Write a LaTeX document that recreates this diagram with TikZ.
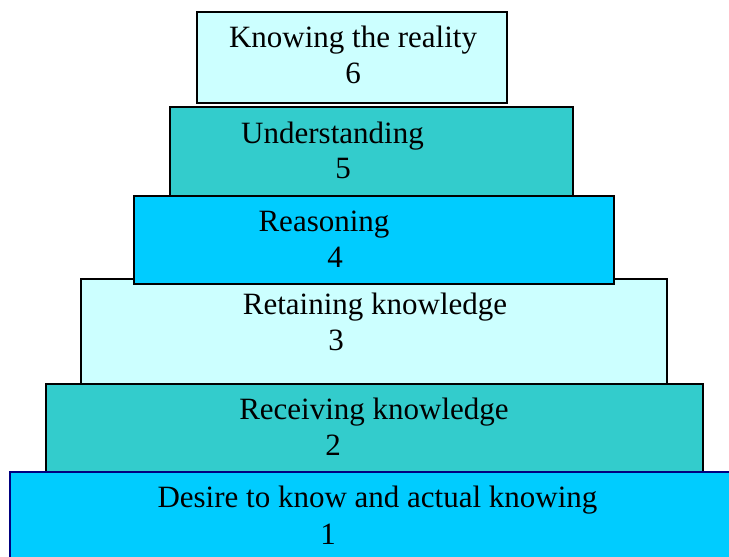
\documentclass[tikz,border=0pt]{standalone}
\usepackage{fontspec}
\setmainfont{Liberation Serif}
\definecolor{lightcy}{HTML}{CCFFFF}
\definecolor{tealc}{HTML}{33CCCC}
\definecolor{skyc}{HTML}{00CCFF}
\definecolor{navyc}{HTML}{000080}
\begin{document}
\begin{tikzpicture}[x=1pt,y=1pt,
  tier/.style={draw=black,line width=1.3pt},
  lbl/.style={anchor=base,inner sep=0pt,font=\fontsize{31}{37}\selectfont}]
\useasboundingbox (0,0) rectangle (729,557);
% tiers
\draw[tier,fill=lightcy] (197,545) rectangle (507,454);
\draw[tier,fill=tealc] (170,450) rectangle (573,361);
\draw[tier,fill=lightcy] (81,278) rectangle (667,172);
\draw[tier,fill=skyc] (134,361) rectangle (614,273);
\draw[tier,fill=tealc] (46,173) rectangle (703,85);
\draw[draw=navyc,line width=1.3pt,fill=skyc] (10,85) rectangle (745,-15);
% labels
\node[lbl] (t6) at (353,509) {Knowing the reality};
\node[lbl] (n6) at (353,473) {6};
\node[lbl] (t5) at (332.5,413) {Understanding};
\node[lbl] (n5) at (343,378) {5};
\node[lbl] (t4) at (324,325) {Reasoning};
\node[lbl] (n4) at (335,289) {4};
\node[lbl] (t3) at (375,242) {Retaining knowledge};
\node[lbl] (n3) at (336,206) {3};
\node[lbl] (t2) at (374,137) {Receiving knowledge};
\node[lbl] (n2) at (333,101) {2};
\node[lbl] (t1) at (377.5,49) {Desire to know and actual knowing};
\node[lbl] (n1) at (328,12) {1};
\end{tikzpicture}
\end{document}
